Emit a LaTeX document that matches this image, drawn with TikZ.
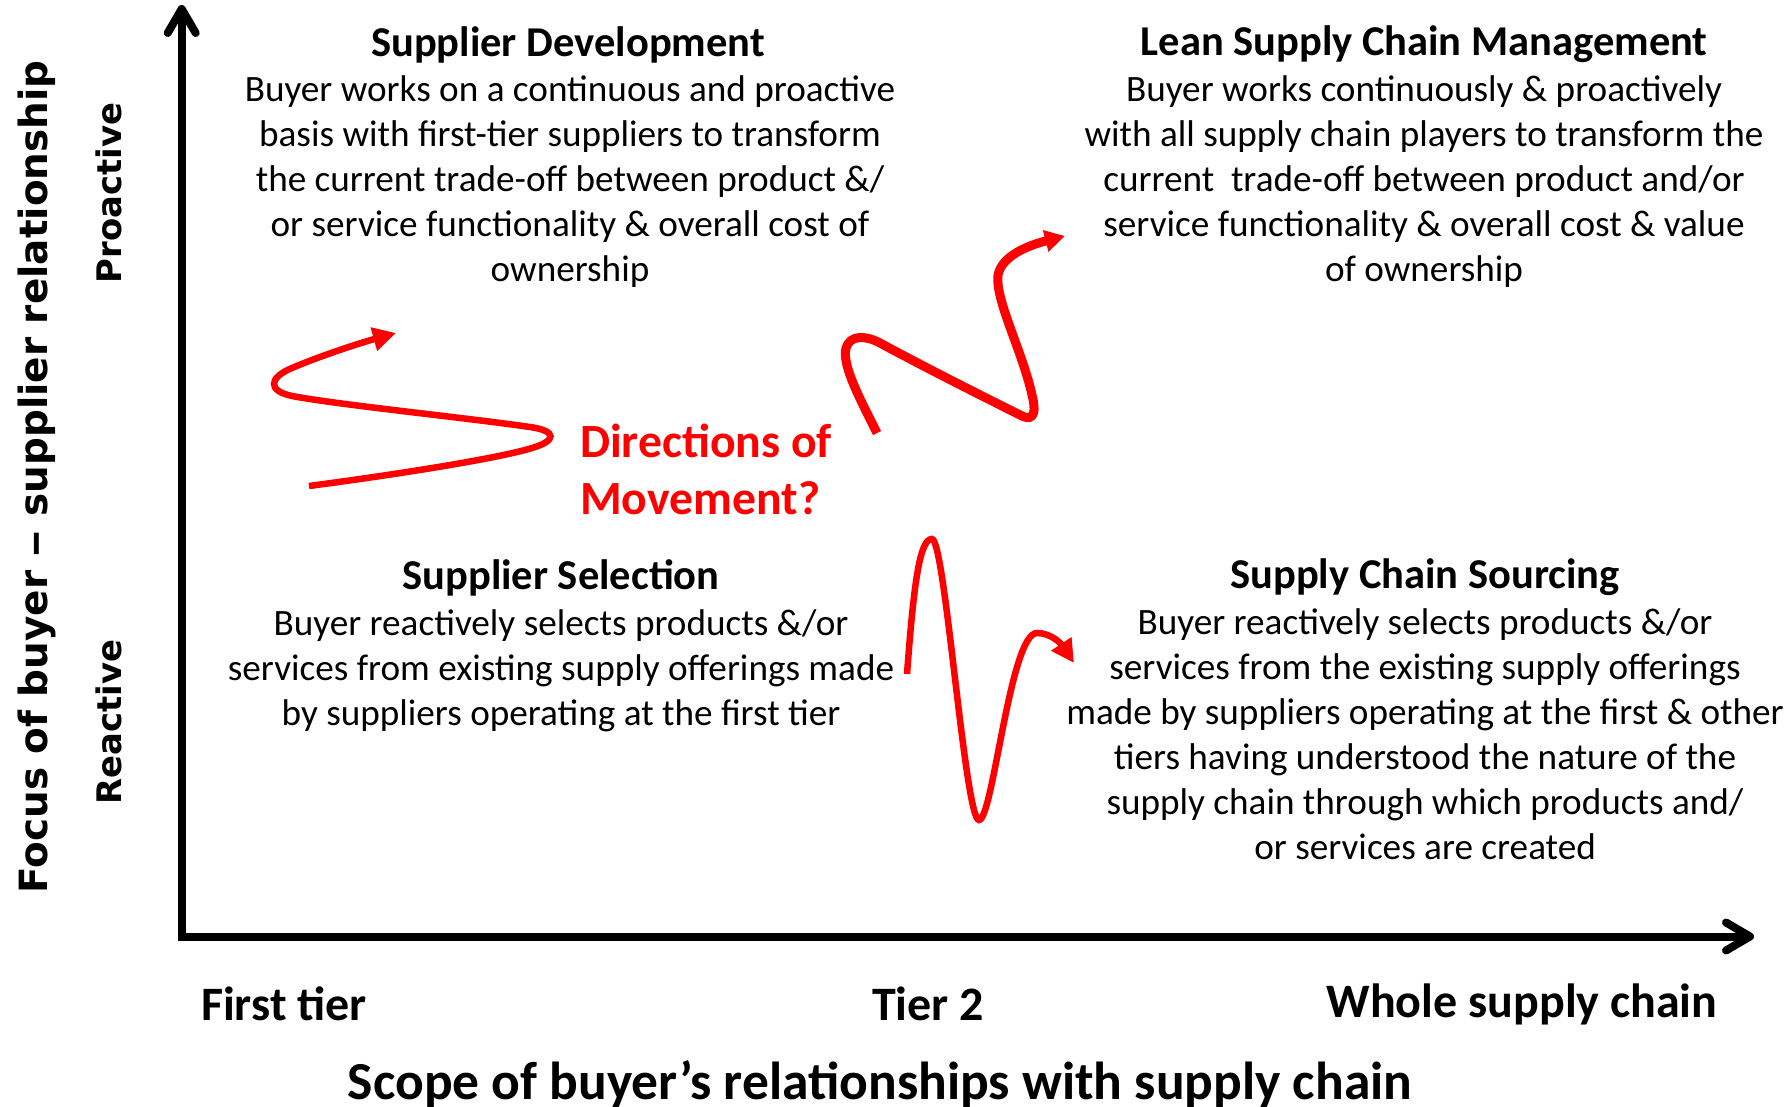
\documentclass[tikz,border=0pt]{standalone}
\usepackage{fontspec}
\setmainfont{Carlito}
\newfontfamily\dejavu{DejaVu Sans}
\usetikzlibrary{arrows.meta}
\begin{document}
\begin{tikzpicture}[x=1pt,y=-1pt,
  ttl/.style={font=\fontsize{42.5}{50}\selectfont\bfseries, inner sep=0pt},
  bodytxt/.style={font=\fontsize{37.2}{44.9}\selectfont, align=center, inner sep=0pt},
  tick/.style={font=\fontsize{48}{56}\selectfont\bfseries, inner sep=0pt},
  vlab/.style={font=\dejavu\bfseries\fontsize{33.8}{40}\selectfont, rotate=90, inner sep=0pt},
  axisline/.style={line width=8pt, line join=miter,
    {Straight Barb[length=24pt,width=28pt,round]}-{Straight Barb[length=24pt,width=28pt,round]}},
  mover/.style={draw=red, line width=6.5pt, -{Triangle[length=23pt,width=23pt]}},
]
\useasboundingbox (0,0) rectangle (1789,1107);

% axes
\coordinate (ytop) at (181.7,5);
\coordinate (orig) at (181.7,936.5);
\coordinate (xend) at (1754,936.5);
\draw[axisline] (ytop) -- (orig) -- (xend);

% quadrant texts
\node[ttl] (sdT) at (568,44.5) {Supplier Development};
\node[bodytxt] (sdB) at (570,181.3) {Buyer works on a continuous and proactive\\basis with first-tier suppliers to transform\\the current trade-off between product \&/\\or service functionality \& overall cost of\\ownership};

\node[ttl] (lsT) at (1424,44.5) {Lean Supply Chain Management};
\node[bodytxt] (lsB) at (1424,181.3) {Buyer works continuously \& proactively\\with all supply chain players to transform the\\current\ \ trade-off between product and/or\\service functionality \& overall cost \& value\\of ownership};

\node[ttl] (ssT) at (561,577.5) {Supplier Selection};
\node[bodytxt] (ssB) at (561,670.5) {Buyer reactively selects products \&/or\\services from existing supply offerings made\\by suppliers operating at the first tier};

\node[ttl] (scT) at (1425,577.5) {Supply Chain Sourcing};
\node[bodytxt] (scB) at (1425,734) {Buyer reactively selects products \&/or\\services from the existing supply offerings\\made by suppliers operating at the first \& other\\tiers having understood the nature of the\\supply chain through which products and/\\or services are created};

% axis labels
\node[tick] (ft) at (284,1004) {First tier};
\node[tick] (t2) at (928,1004) {Tier 2};
\node[tick] (wsc) at (1522,1004) {Whole supply chain};
\node[font=\fontsize{53.5}{60}\selectfont\bfseries, inner sep=0pt] (scope) at (880,1084) {Scope of buyer’s relationships with supply chain};

\node[vlab, font=\dejavu\bfseries\fontsize{38.9}{44}\selectfont] (focus) at (36.6,477) {Focus of buyer \scalebox{1.4}[1]{–} supplier relationship};
\node[vlab] (pro) at (108.6,193) {Proactive};
\node[vlab] (rea) at (108.6,722) {Reactive};

% directions
\node[font=\fontsize{47.7}{57}\selectfont\bfseries, text=red, align=left, inner sep=0pt, anchor=west] (dir) at (580,469.7) {Directions of\\Movement?};

% S curve
\draw[mover] (309,486) .. controls (400,474) and (500,458) .. (532,448)
  .. controls (556,441) and (558,431) .. (530,427)
  .. controls (460,417) and (340,405) .. (292,396)
  .. controls (268,391) and (268,378) .. (292,368)
  .. controls (320,356) and (360,343) .. (396,333);

% N curve
\draw[draw=red, line width=9pt, -{Triangle[length=20pt,width=21pt]}] (877,433)
  .. controls (858,395) and (842,365) .. (846,348)
  .. controls (850,335) and (865,335) .. (880,343)
  .. controls (930,370) and (990,400) .. (1022,416)
  .. controls (1035,422) and (1036,410) .. (1032,395)
  .. controls (1022,350) and (995,300) .. (998,275)
  .. controls (1002,255) and (1030,245) .. (1065,236);

% wave
\draw[mover] (907,674) .. controls (914,580) and (920,539) .. (932,539)
  .. controls (945,539) and (965,820) .. (979,820)
  .. controls (993,820) and (1010,633) .. (1037,633)
  .. controls (1052,633) and (1062,645) .. (1074,663);
\end{tikzpicture}
\end{document}
